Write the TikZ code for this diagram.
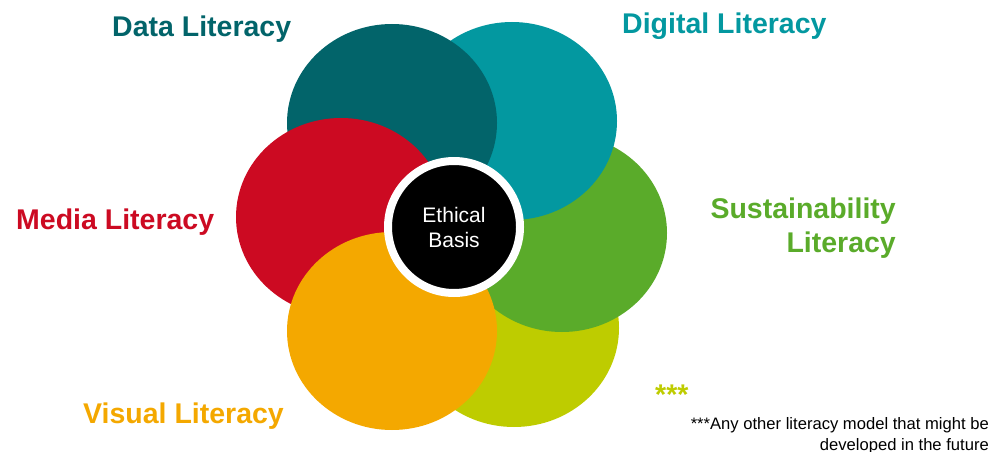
\documentclass[tikz,border=0pt]{standalone}
\usepackage{fontspec}
\setmainfont{Liberation Sans}

\definecolor{datacol}{HTML}{02646A}
\definecolor{digitalcol}{HTML}{0398A0}
\definecolor{sustcol}{HTML}{5AAB2A}
\definecolor{othercol}{HTML}{BECC00}
\definecolor{visualcol}{HTML}{F4A800}
\definecolor{mediacol}{HTML}{CC0A22}

\tikzset{
    litlabel/.style={inner sep=0pt, font=\fontsize{28.5}{34}\selectfont\bfseries},
}

\begin{document}
\begin{tikzpicture}[x=1pt,y=-1pt]

            \useasboundingbox (0,0) rectangle (1003,452);

            % petals, lowest first
            \foreach \cx/\cy/\col in {514/328/othercol, 562/233/sustcol, 512/121/digitalcol,
                                      392/123/datacol, 341/217/mediacol, 392/331/visualcol} {
                \fill[\col] (\cx,\cy) ellipse [x radius=105pt, y radius=99pt];
            }

            \node[circle, fill=black, draw=white, line width=8pt, minimum size=132pt,
                  text=white, align=center, font=\fontsize{21}{25}\selectfont] (ethics) at (454,227) {Ethical\\Basis};

            \node[litlabel, text=datacol, anchor=base west] (data) at (112,37) {Data Literacy};
            \node[litlabel, text=digitalcol, anchor=base west] (digital) at (622,34) {Digital Literacy};
            \node[litlabel, text=mediacol, anchor=base west] (media) at (16,229) {Media Literacy};
            \node[litlabel, text=sustcol, anchor=north east, align=right] (sust) at (896,198) {Sustainability\\Literacy};
            \node[litlabel, text=visualcol, anchor=base west] (visual) at (83,423) {Visual Literacy};
            \node[litlabel, text=othercol, anchor=base west] (other) at (655,404) {***};

            \node[inner sep=0pt, anchor=north east, align=right, font=\fontsize{16.6}{21}\selectfont] (note) at (989,417)
                {***Any other literacy model that might be\\developed in the future};

        \end{tikzpicture}
\end{document}
